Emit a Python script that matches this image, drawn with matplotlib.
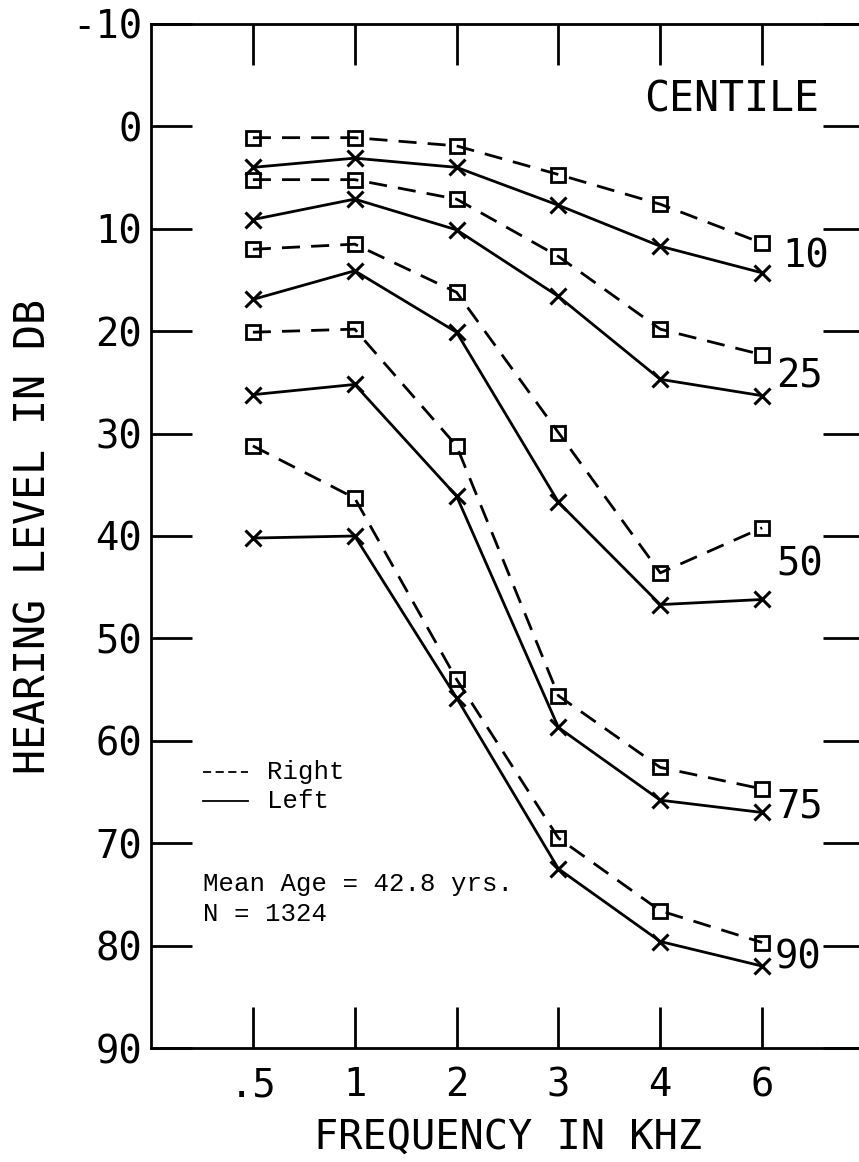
import matplotlib
matplotlib.use('agg')
import matplotlib.pyplot as plt

# frequency categories (kHz) and centile curves, hearing level in dB
freqs = [".5", "1", "2", "3", "4", "6"]
centiles = ["10", "25", "50", "75", "90"]

right_10 = [1.1, 1.1, 1.9, 4.7, 7.6, 11.4]
right_25 = [5.2, 5.2, 7.1, 12.7, 19.8, 22.3]
right_50 = [12.0, 11.5, 16.2, 29.9, 43.6, 39.2]
right_75 = [20.1, 19.8, 31.2, 55.6, 62.6, 64.7]
right_90 = [31.2, 36.3, 54.0, 69.5, 76.6, 79.7]

left_10 = [4.0, 3.1, 4.0, 7.7, 11.7, 14.3]
left_25 = [9.1, 7.1, 10.1, 16.6, 24.7, 26.3]
left_50 = [16.9, 14.1, 20.1, 36.7, 46.7, 46.2]
left_75 = [26.2, 25.2, 36.1, 58.7, 65.8, 67.0]
left_90 = [40.2, 40.0, 55.8, 72.5, 79.6, 82.0]

right_ear = [right_10, right_25, right_50, right_75, right_90]
left_ear = [left_10, left_25, left_50, left_75, left_90]

# where each centile number sits at the right end of its curves
label_y = [12.7, 24.4, 42.8, 66.4, 81.2]
label_x = [5.2, 5.14, 5.14, 5.14, 5.12]

yticks = list(range(-10, 100, 10))

mono = 'DejaVu Sans Mono'
typed = 'Liberation Mono'

fig = plt.figure(figsize=(8.59, 11.62), dpi=100)
ax = fig.add_axes([151 / 859, 114 / 1162, 713 / 859, 1024 / 1162])

x = list(range(len(freqs)))
for r, l in zip(right_ear, left_ear):
    ax.plot(x, r, color='black', lw=2.0, dashes=(6.5, 4),
            marker='s', ms=10, mfc='none', mec='black', mew=2.0)
    ax.plot(x, l, color='black', lw=2.0,
            marker='x', ms=11, mec='black', mew=2.2)

for name, lx, ly in zip(centiles, label_x, label_y):
    ax.text(lx, ly, name, fontsize=28, family=mono, ha='left', va='center')
ax.text(5.56, -2.6, "CENTILE", fontsize=30, family=mono, ha='right', va='center')

# key for the two ears
ax.plot([-0.49, -0.05], [63.0, 63.0], color='black', lw=1.3, dashes=(4.5, 2.5))
ax.plot([-0.49, -0.05], [65.9, 65.9], color='black', lw=1.3)
ax.text(0.14, 63.0, "Right", fontsize=18.5, family=typed, ha='left', va='center')
ax.text(0.14, 65.9, "Left", fontsize=18.5, family=typed, ha='left', va='center')
ax.text(-0.49, 74.0, "Mean Age = 42.8 yrs.", fontsize=18.5, family=typed,
        ha='left', va='center')
ax.text(-0.49, 76.9, "N = 1324", fontsize=18.5, family=typed,
        ha='left', va='center')

ax.set_xlim(-1, 6)
ax.set_ylim(90, -10)

ax.set_xticks(x)
ax.set_xticklabels(freqs, family=mono, fontsize=28)
ax.set_yticks(yticks)
ax.set_yticklabels([str(v) for v in yticks], family=mono, fontsize=28)

ax.tick_params(axis='both', direction='in', length=29.5, width=2.0,
               top=True, right=True, labeltop=False, labelright=False)
ax.tick_params(axis='y', pad=6.5)
ax.tick_params(axis='x', pad=13)

for s in ax.spines.values():
    s.set_linewidth(2.0)

ax.set_xlabel("FREQUENCY IN KHZ", family=mono, fontsize=29)
ax.set_ylabel("HEARING LEVEL IN DB", family=mono, fontsize=30)
ax.xaxis.set_label_coords(0.5, -0.068)
ax.yaxis.set_label_coords(-0.135, 0.5)

fig.savefig("out.png", dpi=100)
